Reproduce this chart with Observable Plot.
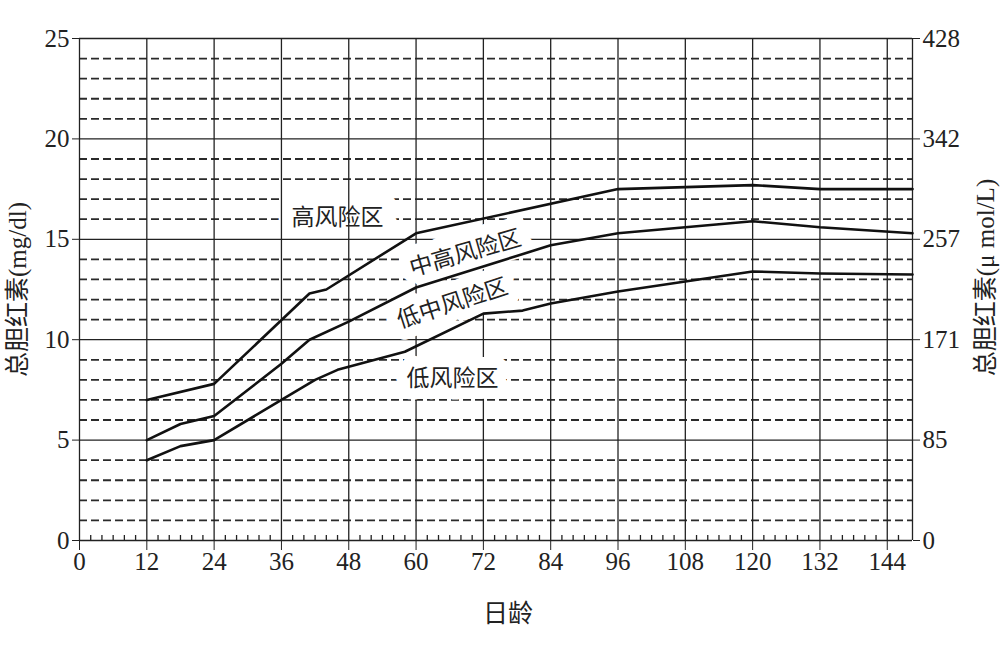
<!DOCTYPE html>
<html>
<head>
<meta charset="utf-8">
<script src="https://cdn.jsdelivr.net/npm/d3@7"></script>
<script src="https://cdn.jsdelivr.net/npm/@observablehq/plot@0.6"></script>
<style>
  html, body { margin: 0; padding: 0; background: white; }
</style>
</head>
<body>
<div id="chart"></div>
<script>
// ---- data ----
const xTicks = [0, 12, 24, 36, 48, 60, 72, 84, 96, 108, 120, 132, 144];
const yTicksLeft = [0, 5, 10, 15, 20, 25];
const yLabelsRight = ["0", "85", "171", "257", "342", "428"];
const xMax = 148.5;

const hoursHigh = [12, 24, 41, 44, 60, 96, 120, 132, 148.5];
const tsbHigh   = [7, 7.8, 12.3, 12.5, 15.3, 17.5, 17.7, 17.5, 17.5];

const hoursMid = [12, 18, 24, 36, 41, 48, 60, 84, 96, 120, 132, 148.5];
const tsbMid   = [5, 5.8, 6.2, 8.8, 10, 10.9, 12.6, 14.7, 15.3, 15.9, 15.6, 15.3];

const hoursLow = [12, 18, 24, 36, 42, 46, 58, 72, 79, 84, 96, 108, 120, 132, 148.5];
const tsbLow   = [4, 4.7, 5, 7, 8, 8.5, 9.4, 11.3, 11.45, 11.8, 12.4, 12.9, 13.4, 13.3, 13.25];

const zoneNames  = ["高风险区", "中高风险区", "低中风险区", "低风险区"];
const zoneX      = [46, 68.8, 66.5, 66.5];
const zoneY      = [16.1, 14.3, 11.8, 8.07];
const zoneRotate = [0, -16, -18, 0];

const xTitle = "日龄";
const yTitleLeft = "总胆红素(mg/dl)";
const yTitleRight = "总胆红素(μ mol/L)";

// ---- derived tables ----
const dashedY = d3.range(1, 25).filter(d => d % 5 !== 0);
const minorX = d3.range(2, 148, 2).filter(d => d % 12 !== 0);
const curves = [
  hoursHigh.map((h, i) => ({zone: "high", h, v: tsbHigh[i]})),
  hoursMid.map((h, i) => ({zone: "mid", h, v: tsbMid[i]})),
  hoursLow.map((h, i) => ({zone: "low", h, v: tsbLow[i]}))
].flat();
const labels = zoneNames.map((t, i) => ({t, x: zoneX[i], y: zoneY[i], r: zoneRotate[i]}));

const serif = "'Liberation Serif', 'Times New Roman', 'Noto Sans CJK SC', serif";
const labelFont = "'Liberation Serif', 'Noto Sans CJK SC', serif";

const plot = Plot.plot({
  width: 1000,
  height: 653,
  marginTop: 38,
  marginBottom: 113,
  marginLeft: 79,
  marginRight: 88,
  x: {domain: [0, xMax]},
  y: {domain: [0, 25]},
  style: {fontFamily: serif, fontSize: "25px", background: "white", color: "#222"},
  marks: [
    // dashed minor grid
    Plot.ruleY(dashedY, {stroke: "#2a2a2a", strokeWidth: 1.8, strokeDasharray: "8,4"}),
    // halo for the unrotated top label (blanks dashed lines only)
    Plot.text([labels[0]], {x: "x", y: "y", text: "t", fontSize: 23, fontFamily: labelFont,
      fill: "white", stroke: "white", strokeWidth: 30}),
    // solid major grid + frame
    Plot.ruleY(yTicksLeft, {stroke: "#222", strokeWidth: 1.3}),
    Plot.ruleX([...xTicks, xMax], {stroke: "#222", strokeWidth: 1.3}),
    // halos for the other labels
    Plot.text(labels.slice(1), {x: "x", y: "y", text: "t", rotate: "r", fontSize: 23, fontFamily: labelFont,
      fill: "white", stroke: "white", strokeWidth: 22}),
    // minor x ticks on the baseline
    Plot.ruleX(minorX, {y1: 0, y2: 0.25, stroke: "#222", strokeWidth: 1.3}),
    // curves
    Plot.line(curves, {x: "h", y: "v", z: "zone", stroke: "#111", strokeWidth: 2.6, strokeLinejoin: "round"}),
    // labels
    Plot.text(labels, {x: "x", y: "y", text: "t", rotate: "r", fontSize: 23, fontFamily: labelFont, fill: "#222"}),
    // axes
    Plot.axisX(xTicks, {anchor: "bottom", tickSize: 10, tickPadding: 2, label: null, fontSize: 25}),
    Plot.axisY(yTicksLeft, {anchor: "left", tickSize: 7, tickPadding: 3, label: null, fontSize: 25}),
    Plot.axisY(yTicksLeft, {anchor: "right", tickSize: 7, tickPadding: 3, label: null, fontSize: 25,
      tickFormat: d => yLabelsRight[yTicksLeft.indexOf(d)]}),
    // axis titles
    Plot.text([yTitleLeft], {text: d => d, frameAnchor: "left", textAnchor: "middle", lineAnchor: "middle",
      dx: -62, rotate: -90, fontSize: 25, fontFamily: labelFont}),
    Plot.text([yTitleRight], {text: d => d, frameAnchor: "right", textAnchor: "middle", lineAnchor: "middle",
      dx: 73, dy: -12, rotate: -90, fontSize: 25, fontFamily: labelFont}),
    Plot.text([xTitle], {text: d => d, frameAnchor: "bottom", textAnchor: "middle", lineAnchor: "middle",
      dx: 12, dy: 73, fontSize: 25, fontFamily: labelFont})
  ]
});
document.getElementById("chart").appendChild(plot);
</script>
</body>
</html>
